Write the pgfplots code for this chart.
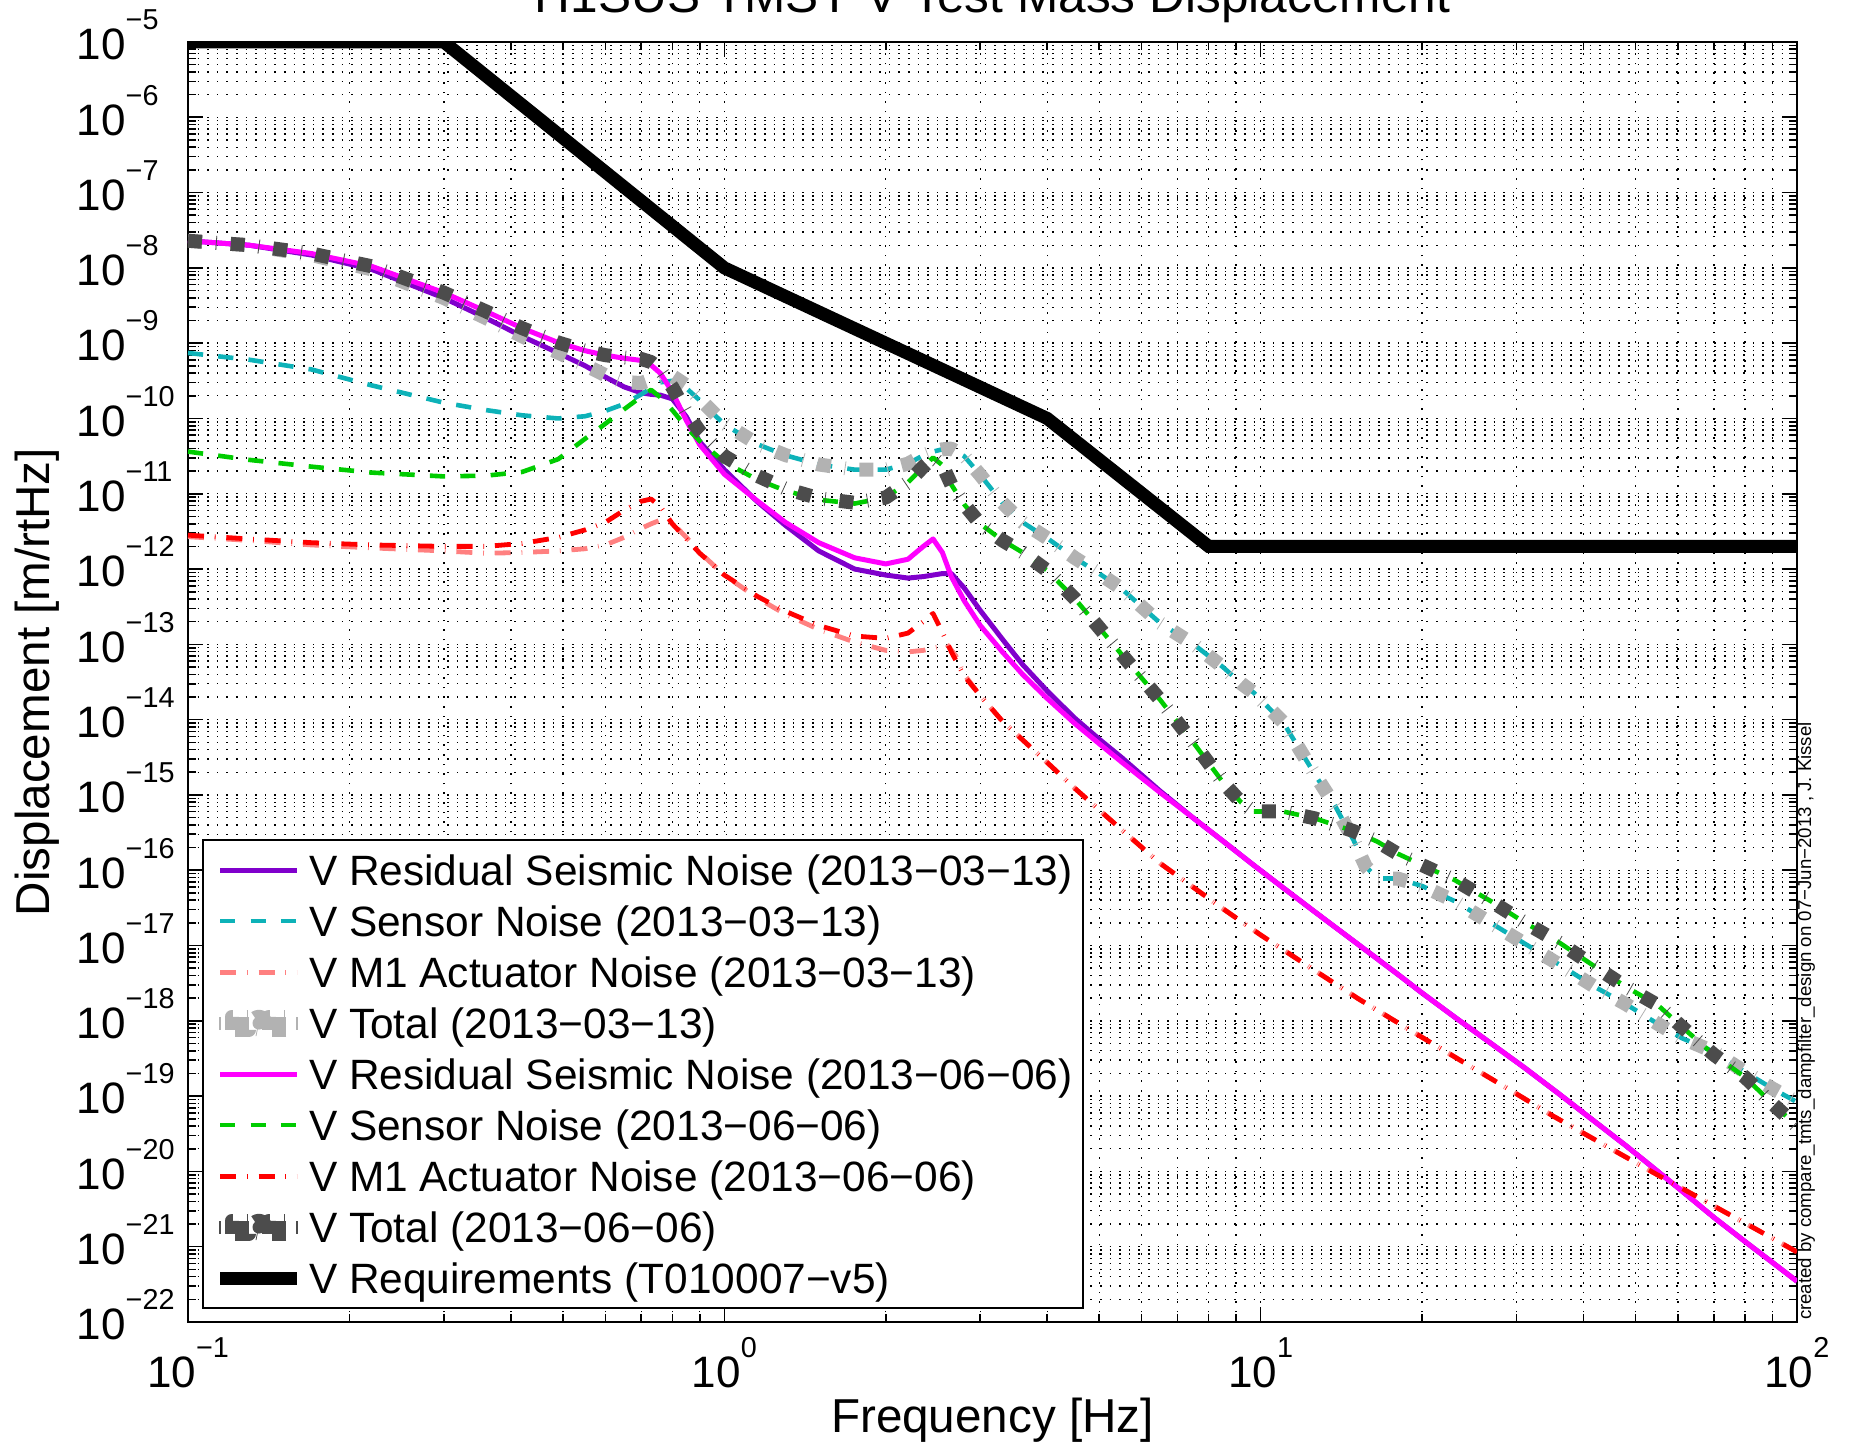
\documentclass[border=0pt]{standalone}
\usepackage{fontspec}
\setmainfont{Liberation Sans}
\usepackage{pgfplots}
\pgfplotsset{compat=1.18}

\definecolor{cPurple}{rgb}{0.5,0,0.8}
\definecolor{cTeal}{rgb}{0.05,0.7,0.72}
\definecolor{cLRed}{rgb}{1,0.5,0.5}
\definecolor{cLGray}{rgb}{0.7,0.7,0.7}
\definecolor{cMag}{rgb}{1,0,1}
\definecolor{cGreen}{rgb}{0,0.8,0}
\definecolor{cRed}{rgb}{1,0,0}
\definecolor{cDGray}{rgb}{0.3,0.3,0.3}

\newcommand{\tl}[1]{10\raisebox{7.5pt}{\fontsize{7.2}{8}\selectfont #1}}

\def\minory{}
\foreach \e in {-22,...,-6}{\foreach \m in {2,...,9}{\ifx\minory\empty\xdef\minory{\m e\e}\else\xdef\minory{\minory,\m e\e}\fi}}

\pgfplotsset{
  totleg/.style={legend image code/.code={
    \draw[##1,solid,line width=0.4pt] (0pt,-1.6pt)--(0pt,1.6pt);
    \fill[##1] (2.9pt,-1.6pt) rectangle (7.2pt,1.6pt);
    \fill[##1] (9.7pt,0pt) circle (1.6pt);
    \fill[##1] (12.2pt,-1.6pt) rectangle (16.5pt,1.6pt);
    \draw[##1,solid,line width=0.4pt] (19.2pt,-1.6pt)--(19.2pt,1.6pt);}},
  seis/.style={line width=1.25pt, solid},
  sens/.style={line width=1.15pt, dash pattern=on 3.8pt off 3.8pt},
  actu/.style={line width=1.2pt, dash pattern=on 4pt off 2.7pt on 0.2pt off 2.7pt},
  tot/.style={line width=3.5pt, dash pattern=on 3.5pt off 3.5pt on 0.2pt off 3.5pt, totleg},
}

\begin{document}
\begin{tikzpicture}
\begin{axis}[
  name=ax,
  scale only axis, width=402.25pt, height=320pt,
  xmode=log, ymode=log,
  xmin=0.1, xmax=100, ymin=1e-22, ymax=1e-5,
  xtick={0.1,1,10,100},
  xticklabels={\tl{−1},\tl{0},\tl{1},\tl{2}},
  ytick={1e-22,1e-21,1e-20,1e-19,1e-18,1e-17,1e-16,1e-15,1e-14,1e-13,1e-12,1e-11,1e-10,1e-9,1e-8,1e-7,1e-6,1e-5},
  yticklabels={\tl{−22},\tl{−21},\tl{−20},\tl{−19},\tl{−18},\tl{−17},\tl{−16},\tl{−15},\tl{−14},\tl{−13},\tl{−12},\tl{−11},\tl{−10},\tl{−9},\tl{−8},\tl{−7},\tl{−6},\tl{−5}},
  minor xtick={0.2,0.3,0.4,0.5,0.6,0.7,0.8,0.9,2,3,4,5,6,7,8,9,20,30,40,50,60,70,80,90},
  minor ytick/.expanded={\minory},
  tick pos=both, tick align=inside,
  major tick length=3.75pt, minor tick length=2pt,
  tick style={black, line width=0.4pt},
  axis line style={black, line width=0.5pt},
  grid=both,
  major grid style={dotted, black, line width=0.35pt},
  minor grid style={dotted, black, line width=0.35pt},
  ticklabel style={font=\fontsize{11}{13}\selectfont},
  xticklabel style={anchor=base, yshift=-16.5pt, inner sep=0pt},
  yticklabel style={anchor=base west, xshift=-28pt, yshift=-4.45pt, inner sep=0pt},
  xlabel={Frequency [Hz]},
  ylabel={Displacement [m/rtHz]},
  xlabel style={at={(axis description cs:0.5,-0.0867)}, anchor=base, inner sep=0pt, font=\fontsize{11.9}{14}\selectfont},
  ylabel style={at={(axis description cs:-0.0861,0.5)}, anchor=base, inner sep=0pt, font=\fontsize{11.9}{14}\selectfont},
  legend image code/.code={\draw[#1] (0pt,0pt) -- (19.2pt,0pt);},
  legend cell align=left,
  legend style={at={(0.00883,0.01016)}, anchor=south west,
    draw=black, line width=0.5pt, fill=white,
    font=\fontsize{10.6}{12.7}\selectfont,
    inner xsep=2.6pt, inner ysep=2.2pt,
    row sep=2.25pt,
    nodes={inner sep=0pt, text height=9.2pt, text depth=1.3pt},
    /tikz/every odd column/.append style={column sep=1.4pt}},
  every axis plot/.append style={line join=round},
]
% 2013-03-13 residual seismic
\addplot[cPurple, seis] coordinates {(0.1,2.29e-8)(0.13,2.00e-8)(0.17,1.48e-8)(0.22,9.55e-9)(0.3,3.98e-9)(0.36,2.14e-9)(0.42,1.23e-9)(0.49,7.41e-10)(0.55,5.01e-10)(0.6,3.55e-10)(0.65,2.63e-10)(0.7,2.19e-10)(0.73,2.09e-10)(0.76,2.04e-10)(0.8,1.82e-10)(0.85,1.05e-10)(0.9,4.90e-11)(1,2.09e-11)(1.15,7.94e-12)(1.3,3.80e-12)(1.5,1.74e-12)(1.75,1.00e-12)(2,8.32e-13)(2.2,7.59e-13)(2.35,7.94e-13)(2.45,8.32e-13)(2.55,8.71e-13)(2.65,8.71e-13)(2.8,5.62e-13)(3,2.82e-13)(3.3,1.17e-13)(3.6,5.37e-14)(4,2.40e-14)(4.5,1.05e-14)(5,5.50e-15)(5.5,3.16e-15)(6.5,1.12e-15)(7.5,4.90e-16)(8.5,2.45e-16)(9.7,1.17e-16)(11,5.89e-17)(12.6,2.82e-17)(14.9,1.15e-17)(18,4.17e-18)(20,2.34e-18)(23,1.12e-18)(27,4.90e-19)(31,2.40e-19)(36,1.07e-19)(42,4.57e-20)(48,2.19e-20)(55,1.00e-20)(61,5.50e-21)(70,2.45e-21)(80,1.17e-21)(90,6.17e-22)(100,3.47e-22)};
\addlegendentry{V Residual Seismic Noise (2013−03−13)}
% 2013-03-13 sensor
\addplot[cTeal, sens] coordinates {(0.1,7.41e-10)(0.13,6.03e-10)(0.17,4.47e-10)(0.22,2.75e-10)(0.3,1.62e-10)(0.36,1.29e-10)(0.42,1.10e-10)(0.49,1.00e-10)(0.55,1.07e-10)(0.6,1.26e-10)(0.65,1.55e-10)(0.7,2.09e-10)(0.73,2.51e-10)(0.76,3.02e-10)(0.8,3.16e-10)(0.85,2.51e-10)(0.9,1.74e-10)(1,8.32e-11)(1.15,4.57e-11)(1.3,3.24e-11)(1.5,2.45e-11)(1.75,2.09e-11)(2,2.09e-11)(2.2,2.51e-11)(2.35,3.24e-11)(2.45,3.63e-11)(2.55,3.89e-11)(2.65,3.98e-11)(2.8,3.16e-11)(3,1.78e-11)(3.3,7.59e-12)(3.6,4.17e-12)(4,2.57e-12)(4.5,1.41e-12)(5,8.71e-13)(5.5,5.50e-13)(6.5,1.91e-13)(7.5,1.00e-13)(8.5,5.01e-14)(9.2,3.02e-14)(9.7,2.29e-14)(11,9.33e-15)(12.6,1.91e-15)(13.8,6.92e-16)(14.9,2.51e-16)(15.7,1.12e-16)(16.5,7.76e-17)(18,7.76e-17)(20,6.17e-17)(23,3.89e-17)(27,1.95e-17)(31,1.07e-17)(36,5.62e-18)(42,2.82e-18)(48,1.66e-18)(55,9.12e-19)(61,5.89e-19)(70,3.89e-19)(80,2.09e-19)(90,1.26e-19)(100,8.32e-20)};
\addlegendentry{V Sensor Noise (2013−03−13)}
% 2013-03-13 actuator
\addplot[cLRed, actu] coordinates {(0.1,2.69e-12)(0.13,2.40e-12)(0.17,2.09e-12)(0.22,1.91e-12)(0.3,1.74e-12)(0.36,1.62e-12)(0.42,1.66e-12)(0.49,1.74e-12)(0.55,1.86e-12)(0.6,2.09e-12)(0.65,2.63e-12)(0.7,3.47e-12)(0.73,3.98e-12)(0.76,4.47e-12)(0.8,4.07e-12)(0.85,2.63e-12)(0.9,1.66e-12)(1,8.32e-13)(1.15,4.17e-13)(1.3,2.51e-13)(1.5,1.58e-13)(1.75,1.07e-13)(2,8.32e-14)(2.2,7.94e-14)(2.35,8.32e-14)(2.45,8.91e-14)(2.55,9.55e-14)(2.6,1.00e-13)(2.7,7.08e-14)(2.8,3.98e-14)(3,2.09e-14)(3.3,9.55e-15)(3.6,5.37e-15)(4,2.69e-15)(4.5,1.23e-15)(5,6.31e-16)(5.5,3.47e-16)(6.5,1.23e-16)(7.5,5.89e-17)(8.5,3.09e-17)(10,1.38e-17)(12.6,4.68e-18)(15.3,1.91e-18)(20,6.03e-19)(23.5,3.02e-19)(30,1.07e-19)(35.2,5.37e-20)(45,2.00e-20)(55.7,8.51e-21)(70,3.47e-21)(85,1.62e-21)(100,8.51e-22)};
\addlegendentry{V M1 Actuator Noise (2013−03−13)}
% 2013-03-13 total
\addplot[cLGray, tot] coordinates {(0.1,2.29e-8)(0.13,2.00e-8)(0.17,1.48e-8)(0.22,9.55e-9)(0.3,3.98e-9)(0.36,2.14e-9)(0.42,1.23e-9)(0.49,7.48e-10)(0.55,5.13e-10)(0.6,3.76e-10)(0.65,3.06e-10)(0.7,2.95e-10)(0.73,3.27e-10)(0.76,3.63e-10)(0.8,3.66e-10)(0.85,2.75e-10)(0.9,1.81e-10)(1,8.57e-11)(1.15,4.63e-11)(1.3,3.26e-11)(1.5,2.45e-11)(1.75,2.09e-11)(2,2.09e-11)(2.2,2.51e-11)(2.35,3.24e-11)(2.45,3.63e-11)(2.55,3.89e-11)(2.65,3.98e-11)(2.8,3.16e-11)(3,1.78e-11)(3.3,7.59e-12)(3.6,4.17e-12)(4,2.57e-12)(4.5,1.41e-12)(5,8.71e-13)(5.5,5.50e-13)(6.5,1.91e-13)(7.5,1.00e-13)(8.5,5.01e-14)(9.2,3.02e-14)(9.7,2.29e-14)(11,9.33e-15)(12.6,1.91e-15)(13.8,6.92e-16)(14.9,2.51e-16)(15.7,1.12e-16)(16.5,7.76e-17)(18,7.76e-17)(20,6.17e-17)(23,3.89e-17)(27,1.95e-17)(31,1.07e-17)(36,5.62e-18)(42,2.82e-18)(48,1.66e-18)(55,9.12e-19)(61,5.89e-19)(70,3.89e-19)(80,2.09e-19)(90,1.26e-19)(100,8.32e-20)};
\addlegendentry{V Total (2013−03−13)}
% 2013-06-06 residual seismic
\addplot[cMag, seis] coordinates {(0.1,2.29e-8)(0.13,2.00e-8)(0.17,1.55e-8)(0.22,1.05e-8)(0.3,4.68e-9)(0.36,2.63e-9)(0.42,1.58e-9)(0.49,1.02e-9)(0.55,7.94e-10)(0.6,6.92e-10)(0.65,6.31e-10)(0.7,5.89e-10)(0.73,5.13e-10)(0.76,3.98e-10)(0.8,2.24e-10)(0.85,9.33e-11)(0.9,4.47e-11)(1,1.82e-11)(1.15,8.13e-12)(1.3,4.17e-12)(1.5,2.24e-12)(1.75,1.41e-12)(2,1.17e-12)(2.2,1.35e-12)(2.35,2.00e-12)(2.45,2.51e-12)(2.55,1.66e-12)(2.65,7.94e-13)(2.8,3.80e-13)(3,1.78e-13)(3.3,7.94e-14)(3.6,3.98e-14)(4,1.91e-14)(4.5,8.91e-15)(5,4.79e-15)(5.5,2.75e-15)(6.5,1.07e-15)(7.5,4.90e-16)(8.5,2.45e-16)(9.7,1.17e-16)(11,5.89e-17)(12.6,2.82e-17)(14.9,1.15e-17)(18,4.17e-18)(20,2.34e-18)(23,1.12e-18)(27,4.90e-19)(31,2.40e-19)(36,1.07e-19)(42,4.57e-20)(48,2.19e-20)(55,1.00e-20)(61,5.50e-21)(70,2.45e-21)(80,1.17e-21)(90,6.17e-22)(100,3.47e-22)};
\addlegendentry{V Residual Seismic Noise (2013−06−06)}
% 2013-06-06 sensor
\addplot[cGreen, sens] coordinates {(0.1,3.63e-11)(0.13,2.82e-11)(0.17,2.29e-11)(0.22,1.91e-11)(0.3,1.70e-11)(0.36,1.74e-11)(0.42,1.95e-11)(0.49,2.88e-11)(0.55,5.37e-11)(0.6,8.51e-11)(0.65,1.32e-10)(0.7,1.95e-10)(0.73,2.40e-10)(0.76,1.91e-10)(0.8,1.29e-10)(0.85,7.59e-11)(0.9,5.01e-11)(1,2.63e-11)(1.15,1.55e-11)(1.3,1.10e-11)(1.5,8.32e-12)(1.75,7.41e-12)(2,8.91e-12)(2.2,1.41e-11)(2.35,2.29e-11)(2.45,3.02e-11)(2.55,2.40e-11)(2.65,1.32e-11)(2.8,7.24e-12)(3,3.98e-12)(3.3,2.40e-12)(3.6,1.66e-12)(4,9.55e-13)(4.5,4.07e-13)(5,1.66e-13)(5.5,7.41e-14)(6.5,1.82e-14)(7.5,4.90e-15)(8.5,1.48e-15)(9.2,7.94e-16)(9.7,6.03e-16)(11,6.03e-16)(12.6,4.90e-16)(14.9,3.31e-16)(16.5,2.40e-16)(18,1.66e-16)(20,1.17e-16)(23,7.41e-17)(27,3.80e-17)(31,2.04e-17)(36,1.10e-17)(42,5.25e-18)(48,2.82e-18)(55,1.62e-18)(61,8.32e-19)(70,3.55e-19)(80,1.78e-19)(90,7.94e-20)(100,3.98e-20)};
\addlegendentry{V Sensor Noise (2013−06−06)}
% 2013-06-06 actuator
\addplot[cRed, actu] coordinates {(0.1,2.82e-12)(0.13,2.51e-12)(0.17,2.24e-12)(0.22,2.09e-12)(0.3,2.00e-12)(0.36,2.00e-12)(0.42,2.19e-12)(0.49,2.63e-12)(0.55,3.31e-12)(0.6,4.17e-12)(0.65,6.03e-12)(0.7,7.94e-12)(0.73,8.51e-12)(0.76,6.76e-12)(0.8,3.98e-12)(0.85,2.51e-12)(0.9,1.62e-12)(1,8.32e-13)(1.15,4.37e-13)(1.3,2.75e-13)(1.5,1.78e-13)(1.75,1.29e-13)(2,1.20e-13)(2.2,1.41e-13)(2.35,2.00e-13)(2.45,2.57e-13)(2.55,1.45e-13)(2.65,7.94e-14)(2.8,3.80e-14)(3,2.09e-14)(3.3,9.55e-15)(3.6,5.37e-15)(4,2.69e-15)(4.5,1.23e-15)(5,6.31e-16)(5.5,3.47e-16)(6.5,1.23e-16)(7.5,5.89e-17)(8.5,3.09e-17)(10,1.38e-17)(12.6,4.68e-18)(15.3,1.91e-18)(20,6.03e-19)(23.5,3.02e-19)(30,1.07e-19)(35.2,5.37e-20)(45,2.00e-20)(55.7,8.51e-21)(70,3.47e-21)(85,1.62e-21)(100,8.51e-22)};
\addlegendentry{V M1 Actuator Noise (2013−06−06)}
% 2013-06-06 total
\addplot[cDGray, tot] coordinates {(0.1,2.29e-8)(0.13,2.00e-8)(0.17,1.55e-8)(0.22,1.05e-8)(0.3,4.68e-9)(0.36,2.63e-9)(0.42,1.58e-9)(0.49,1.02e-9)(0.55,7.94e-10)(0.6,6.92e-10)(0.65,6.46e-10)(0.7,6.17e-10)(0.73,5.62e-10)(0.76,4.42e-10)(0.8,2.59e-10)(0.85,1.20e-10)(0.9,6.71e-11)(1,3.16e-11)(1.15,1.74e-11)(1.3,1.17e-11)(1.5,8.71e-12)(1.75,7.59e-12)(2,8.91e-12)(2.2,1.41e-11)(2.35,2.29e-11)(2.45,3.02e-11)(2.55,2.40e-11)(2.65,1.32e-11)(2.8,7.24e-12)(3,3.98e-12)(3.3,2.40e-12)(3.6,1.66e-12)(4,9.55e-13)(4.5,4.07e-13)(5,1.66e-13)(5.5,7.41e-14)(6.5,1.82e-14)(7.5,4.90e-15)(8.5,1.48e-15)(9.2,7.94e-16)(9.7,6.03e-16)(11,6.03e-16)(12.6,4.90e-16)(14.9,3.31e-16)(16.5,2.40e-16)(18,1.66e-16)(20,1.17e-16)(23,7.41e-17)(27,3.80e-17)(31,2.04e-17)(36,1.10e-17)(42,5.25e-18)(48,2.82e-18)(55,1.62e-18)(61,8.32e-19)(70,3.55e-19)(80,1.78e-19)(90,7.94e-20)(100,3.98e-20)};
\addlegendentry{V Total (2013−06−06)}
% requirements
\addplot[black, line width=3.25pt, line join=miter] coordinates {(0.1,1e-5)(0.3,1e-5)(1,1e-8)(4,1e-10)(8,2e-12)(100,2e-12)};
\addlegendentry{V Requirements (T010007−v5)}
\end{axis}
\pgfresetboundingbox
\path[use as bounding box] ([xshift=-47pt,yshift=-31.5pt]ax.south west) rectangle ([xshift=14.25pt,yshift=10.5pt]ax.north east);
\node[overlay, anchor=base, inner sep=0pt, font=\fontsize{12.4}{14}\selectfont] at ([yshift=7.25pt]ax.north) {H1SUS TMSY V Test Mass Displacement};
\node[rotate=90, anchor=base west, inner sep=0pt, font=\fontsize{4.66}{5}\selectfont] at ([xshift=3.5pt,yshift=0.3pt]ax.south east) {created by compare\_tmts\_dampfilter\_design on 07−Jun−2013 , J. Kissel};
\end{tikzpicture}
\end{document}
